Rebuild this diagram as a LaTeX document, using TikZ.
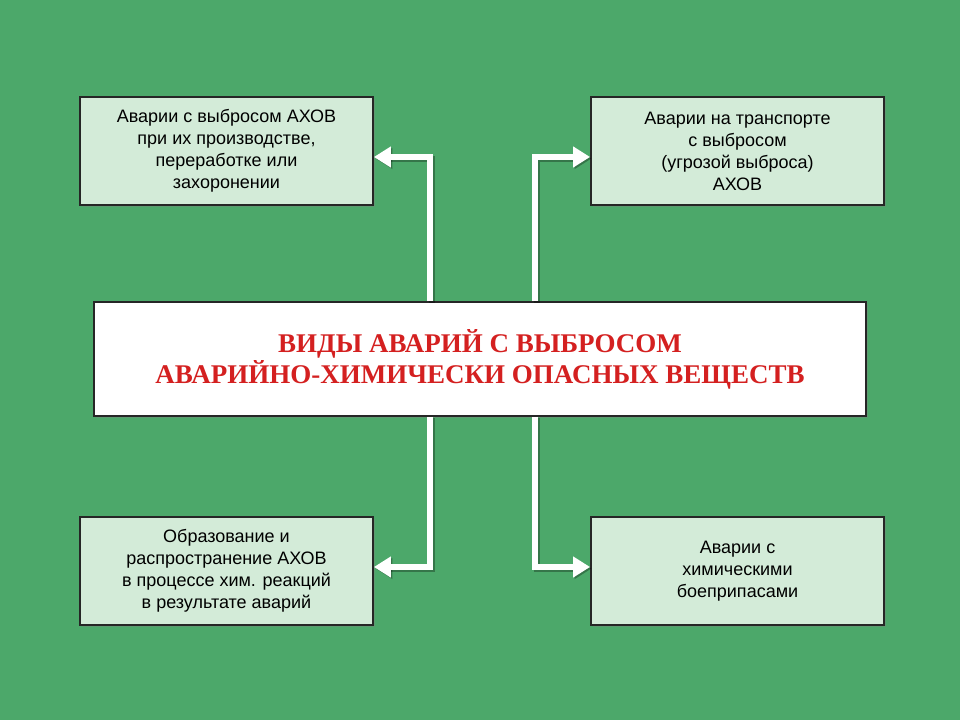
\documentclass[tikz,border=0pt]{standalone}
\usepackage{fontspec}
\setmainfont{Liberation Sans}
\newfontfamily\serifb{Liberation Serif}
\usetikzlibrary{arrows.meta,shadows}
\definecolor{bg}{HTML}{4CA86A}
\definecolor{boxf}{HTML}{D3EBD8}
\definecolor{redt}{HTML}{D42020}
\tikzset{
 small/.style={draw=black!85,line width=1.8pt,fill=boxf,minimum width=293pt,minimum height=108pt,align=center,font=\fontsize{18}{22}\selectfont,drop shadow={shadow xshift=2pt,shadow yshift=-2pt,opacity=0.35}},
 central/.style={draw=black!85,line width=1.8pt,fill=white,minimum width=772pt,minimum height=114pt,align=center,font=\serifb\bfseries\fontsize{27}{31}\selectfont,text=redt,drop shadow={shadow xshift=2pt,shadow yshift=-2pt,opacity=0.35}},
 conn/.style={white,line width=6pt,-{Triangle[length=17pt,width=20pt]}}
}
\begin{document}
\begin{tikzpicture}[x=1pt,y=-1pt]
\fill[bg] (0,0) rectangle (960,720);
\useasboundingbox (0,0) rectangle (960,720);
\node[small] (tl) at (226.5,151) {Аварии с выбросом АХОВ\\при их производстве,\\переработке или\\захоронении};
\node[small] (tr) at (737.5,151) {Аварии на транспорте\\с выбросом\\(угрозой выброса)\\АХОВ};
\node[small] (bl) at (226.5,571) {Образование и\\распространение АХОВ\\в процессе хим. реакций\\в результате аварий};
\node[small] (br) at (737.5,571) {Аварии с\\химическими\\боеприпасами};
\node[central] (c) at (480,359) {ВИДЫ АВАРИЙ С ВЫБРОСОМ\\АВАРИЙНО-ХИМИЧЕСКИ ОПАСНЫХ ВЕЩЕСТВ};
\coordinate (a1) at (430,157);
\coordinate (a2) at (535,157);
\coordinate (a3) at (430,567);
\coordinate (a4) at (535,567);
\begin{scope}[transform canvas={xshift=1.5pt,yshift=-1.5pt}]
\draw[conn,black,opacity=0.3] (c.north -| a1) -- (a1) -- (a1 -| tl.east);
\draw[conn,black,opacity=0.3] (c.north -| a2) -- (a2) -- (a2 -| tr.west);
\draw[conn,black,opacity=0.3] (c.south -| a3) -- (a3) -- (a3 -| bl.east);
\draw[conn,black,opacity=0.3] (c.south -| a4) -- (a4) -- (a4 -| br.west);
\end{scope}
\draw[conn] (c.north -| a1) -- (a1) -- (a1 -| tl.east);
\draw[conn] (c.north -| a2) -- (a2) -- (a2 -| tr.west);
\draw[conn] (c.south -| a3) -- (a3) -- (a3 -| bl.east);
\draw[conn] (c.south -| a4) -- (a4) -- (a4 -| br.west);
\end{tikzpicture}
\end{document}
